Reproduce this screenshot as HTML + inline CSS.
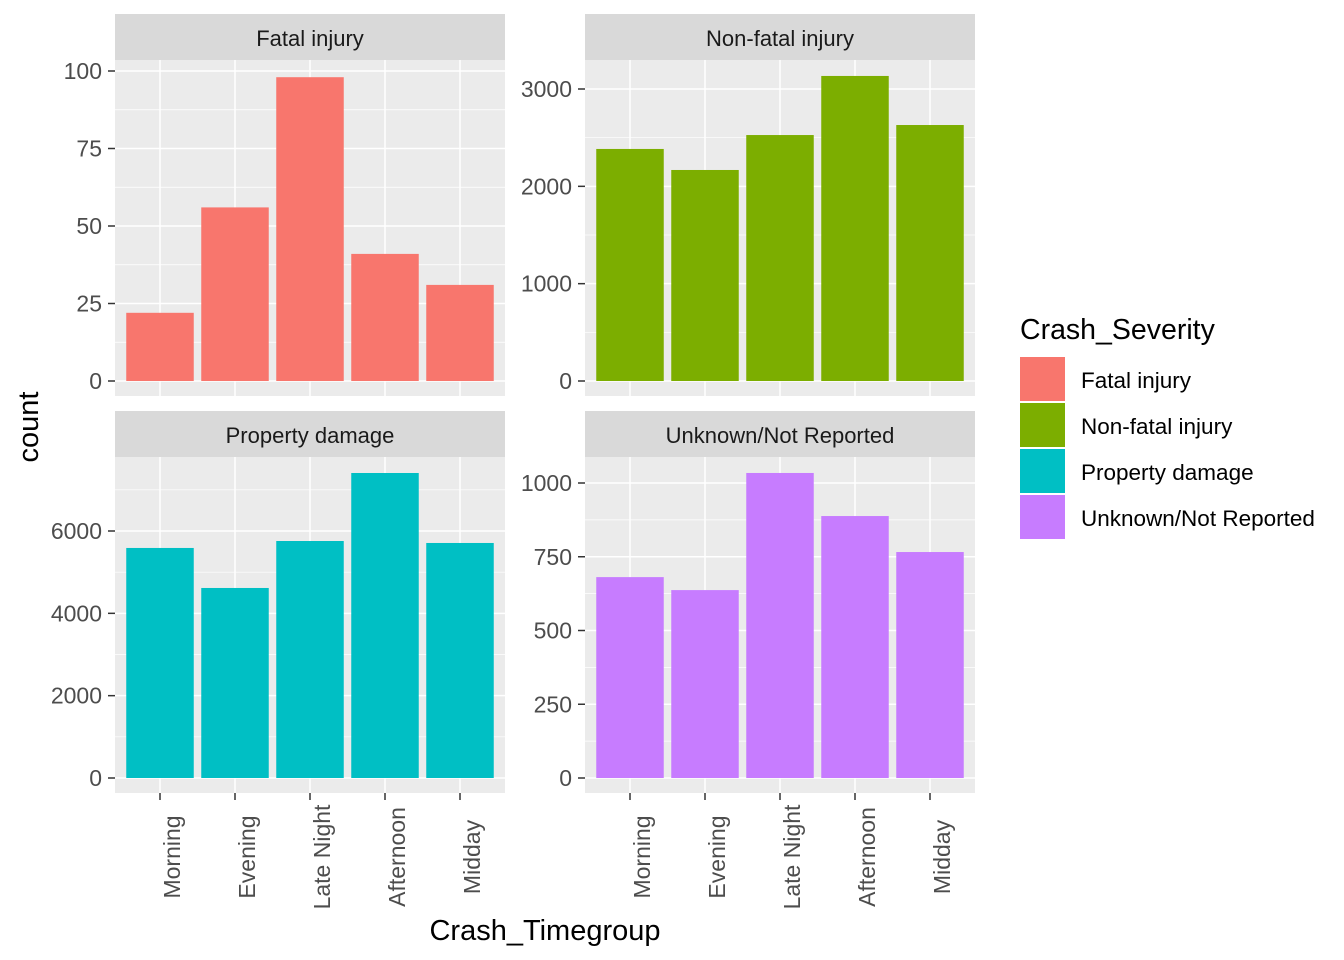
<!DOCTYPE html>
<html><head><meta charset="utf-8"><style>
body{margin:0;background:#fff;}
svg{display:block;font-family:"Liberation Sans",Arial,sans-serif;}
</style></head><body>
<svg id="c" width="1344" height="960"></svg>
<script>
const categories = ["Morning","Evening","Late Night","Afternoon","Midday"];
const facets = ["Fatal injury","Non-fatal injury","Property damage","Unknown/Not Reported"];
const colors = ["#F8766D","#7CAE00","#00BFC4","#C77CFF"];
const fatalValues = [22,56,98,41,31];
const nonFatalValues = [2384,2168,2527,3134,2630];
const propertyValues = [5588,4616,5757,7409,5709];
const unknownValues = [681,637,1034,888,766];
const fatalTicks = [0,25,50,75,100];
const nonFatalTicks = [0,1000,2000,3000];
const propertyTicks = [0,2000,4000,6000];
const unknownTicks = [0,250,500,750,1000];

const NS="http://www.w3.org/2000/svg";
const svg=document.getElementById('c');
function mk(tag,attrs,parent,text){const e=document.createElementNS(NS,tag);for(const k in attrs)e.setAttribute(k,attrs[k]);if(text!==undefined)e.textContent=text;(parent||svg).appendChild(e);return e;}

const panels=[
 {vals:fatalValues,ticks:fatalTicks,ymax:100*(381-60)/(381-71),x0:115,y0:60,stripY:14,showX:false},
 {vals:nonFatalValues,ticks:nonFatalTicks,ymax:3000*(381-60)/(381-89),x0:585,y0:60,stripY:14,showX:false},
 {vals:propertyValues,ticks:propertyTicks,ymax:6000*(778-457)/(778-531),x0:115,y0:457,stripY:411,showX:true},
 {vals:unknownValues,ticks:unknownTicks,ymax:1000*(778-457)/(778-483),x0:585,y0:457,stripY:411,showX:true}
];
const W=390;
panels.forEach((p,i)=>{
  const g=mk('g',{});
  
  
  const base=p.y0+321;
  const ys=v=>base-(v/p.ymax)*321;
  const xs=j=>p.x0+45+75*j;
  const st=mk('rect',{x:p.x0,y:p.stripY,width:W,height:46,fill:'#D9D9D9'},g);
  
  const stt=mk('text',{x:p.x0+W/2,y:p.stripY+32,'text-anchor':'middle','font-size':22,fill:'#1A1A1A'},g,facets[i]);
  
  const bg=mk('rect',{x:p.x0,y:p.y0,width:W,height:336,fill:'#EBEBEB'},g);
  
  for(let k=0;k<p.ticks.length;k++){
    const step=p.ticks[1]-p.ticks[0];
    const mv=p.ticks[k]+step/2;const y=ys(mv);
    if(y>p.y0) mk('line',{x1:p.x0,x2:p.x0+W,y1:y,y2:y,stroke:'#fff','stroke-width':0.7},g);
  }
  p.ticks.forEach(t=>{const y=ys(t);
    mk('line',{x1:p.x0,x2:p.x0+W,y1:y,y2:y,stroke:'#fff','stroke-width':1.5},g);
    mk('line',{x1:p.x0-7,x2:p.x0,y1:y,y2:y,stroke:'#333','stroke-width':1.5},g);
    const tl=mk('text',{x:p.x0-13,y:y+8,'text-anchor':'end','font-size':23,fill:'#4D4D4D'},g,String(t));
    
  });
  categories.forEach((c,j)=>{
    mk('line',{x1:xs(j),x2:xs(j),y1:p.y0,y2:p.y0+336,stroke:'#fff','stroke-width':1.5},g);
  });
  p.vals.forEach((v,j)=>{
    const b=mk('rect',{x:xs(j)-33.75,y:ys(v),width:67.5,height:base-ys(v),fill:colors[i]},g);
    
    
  });
  if(p.showX){
    categories.forEach((c,j)=>{
      mk('line',{x1:xs(j),x2:xs(j),y1:793,y2:800,stroke:'#333','stroke-width':1.5},g);
      const t=mk('text',{x:0,y:0,'text-anchor':'middle','font-size':23,fill:'#4D4D4D',transform:`translate(${xs(j)+20},857) rotate(-90)`},g,c);
      
    });
  }
});
const xt=mk('text',{x:545,y:940,'text-anchor':'middle','font-size':29,fill:'#000'},svg,'Crash_Timegroup');

const yt=mk('text',{x:0,y:0,'text-anchor':'middle','font-size':29,fill:'#000',transform:'translate(38,427) rotate(-90)'},svg,'count');

const lg=mk('g',{});

const ltt=mk('text',{x:1020,y:339,'font-size':28.5,fill:'#000'},lg,'Crash_Severity');

facets.forEach((f,i)=>{
  const y=357+46*i;
  const k=mk('rect',{x:1020,y:y,width:45,height:44,fill:colors[i]},lg);
  
  const t=mk('text',{x:1081,y:y+31,'font-size':22.5,fill:'#000'},lg,f);
  
});
</script>
</body></html>
